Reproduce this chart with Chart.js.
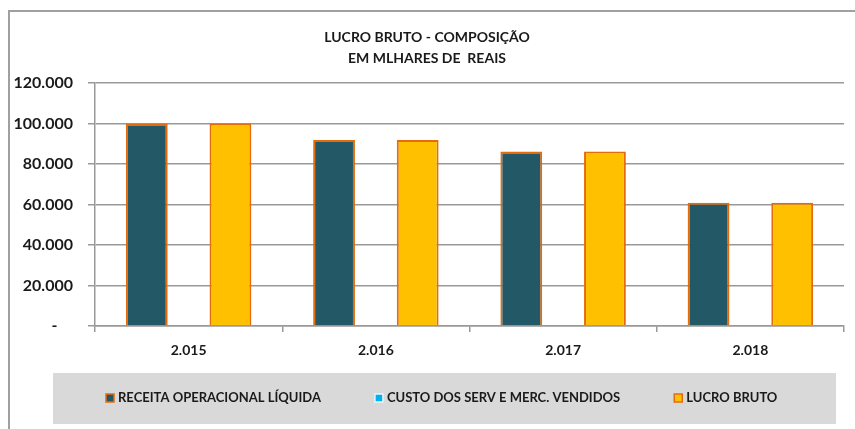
<!DOCTYPE html>
<html>
<head>
<meta charset="utf-8">
<title>Lucro Bruto - Composição</title>
<script src="https://cdn.jsdelivr.net/npm/chart.js"></script>
<style>
    html, body { margin: 0; padding: 0; background: #fff; }
    canvas { display: block; }
</style>
</head>
<body>
<canvas id="myChart" width="855" height="429"></canvas>
<script>
    const anos = ['2.015', '2.016', '2.017', '2.018'];
    const receitaLiquida = [100000, 91800, 86200, 60900];
    const custoServMerc = [0, 0, 0, 0];
    const lucroBruto = [100000, 91800, 86200, 60900];
    const yTicks = [0, 20000, 40000, 60000, 80000, 100000, 120000];

    const fonte = 'Lato, "Liberation Sans", sans-serif';
    const laranja = '#E46C0A';

    function formatMilhar(v) {
        if (v === 0) return '-    ';
        return String(v).replace(/\B(?=(\d{3})+(?!\d))/g, '.');
    }

    // moldura externa + legenda em caixa cinza
    const molduraLegenda = {
        id: 'molduraLegenda',
        beforeDraw(chart) {
            const c = chart.ctx;
            c.save();
            c.strokeStyle = '#a0a0a0';
            c.lineWidth = 2;
            c.beginPath();
            c.moveTo(9, chart.height);
            c.lineTo(9, 11);
            c.lineTo(chart.width, 11);
            c.stroke();
            c.restore();
        },
        afterDraw(chart) {
            const c = chart.ctx;
            c.save();
            c.fillStyle = '#D9D9D9';
            c.fillRect(53, 373, 783, 51);
            c.font = 'bold 13px ' + fonte;
            c.textBaseline = 'middle';
            c.textAlign = 'left';
            let x = 106;
            const y = 398;
            chart.data.datasets.forEach(ds => {
                c.fillStyle = ds.backgroundColor;
                c.fillRect(x, y - 4, 8, 8);
                c.strokeStyle = ds.borderWidth ? ds.borderColor : '#e8f6fc';
                c.lineWidth = 1.5;
                c.strokeRect(x, y - 4, 8, 8);
                c.fillStyle = '#1a1a1a';
                c.fillText(ds.label, x + 12, y);
                x += 12 + c.measureText(ds.label).width + 54;
            });
            c.restore();
        }
    };

    const ctx = document.getElementById('myChart');

    new Chart(ctx, {
        type: 'bar',
        data: {
            labels: anos,
            datasets: [
                {
                    label: 'RECEITA OPERACIONAL LÍQUIDA',
                    data: receitaLiquida,
                    backgroundColor: '#235866',
                    borderColor: laranja,
                    borderWidth: 2
                }, {
                    label: 'CUSTO DOS SERV E MERC. VENDIDOS',
                    data: custoServMerc,
                    backgroundColor: '#00B0F0',
                    borderColor: '#00B0F0',
                    borderWidth: 0
                }, {
                    label: 'LUCRO BRUTO',
                    data: lucroBruto,
                    backgroundColor: '#FFC000',
                    borderColor: laranja,
                    borderWidth: 2
                }
            ]
        },
        options: {
            responsive: false,
            animation: false,
            barPercentage: 1,
            categoryPercentage: 0.67,
            layout: {
                padding: { left: 10, right: 11, top: 0, bottom: 63 }
            },
            plugins: {
                legend: { display: false },
                tooltip: { enabled: false },
                title: {
                    display: true,
                    text: ['LUCRO BRUTO - COMPOSIÇÃO', 'EM MLHARES DE  REAIS'],
                    color: '#1a1a1a',
                    font: { family: fonte, size: 14, weight: 'bold', lineHeight: 1.5 },
                    padding: { top: 27, bottom: 14 }
                }
            },
            scales: {
                x: {
                    grid: {
                        drawOnChartArea: false,
                        drawTicks: true,
                        tickLength: 6,
                        color: '#999',
                        lineWidth: 1.5,
                        offset: true
                    },
                    border: { display: true, color: '#999', width: 1.5 },
                    ticks: {
                        color: '#1a1a1a',
                        padding: 10,
                        font: { family: fonte, size: 14, weight: 'bold' }
                    },
                    afterFit(scale) { scale.height = 40; }
                },
                y: {
                    min: 0,
                    max: 120000,
                    afterBuildTicks(scale) {
                        scale.ticks = yTicks.map(v => ({ value: v }));
                    },
                    grid: {
                        color: '#999',
                        lineWidth: 1.5,
                        tickLength: 7
                    },
                    border: { display: true, color: '#999', width: 1.5 },
                    ticks: {
                        color: '#1a1a1a',
                        padding: 15,
                        font: { family: fonte, size: 16, weight: 'bold' },
                        callback: v => formatMilhar(v)
                    },
                    afterFit(scale) { scale.width = 85; }
                }
            }
        },
        plugins: [molduraLegenda]
    });
</script>
</body>
</html>
